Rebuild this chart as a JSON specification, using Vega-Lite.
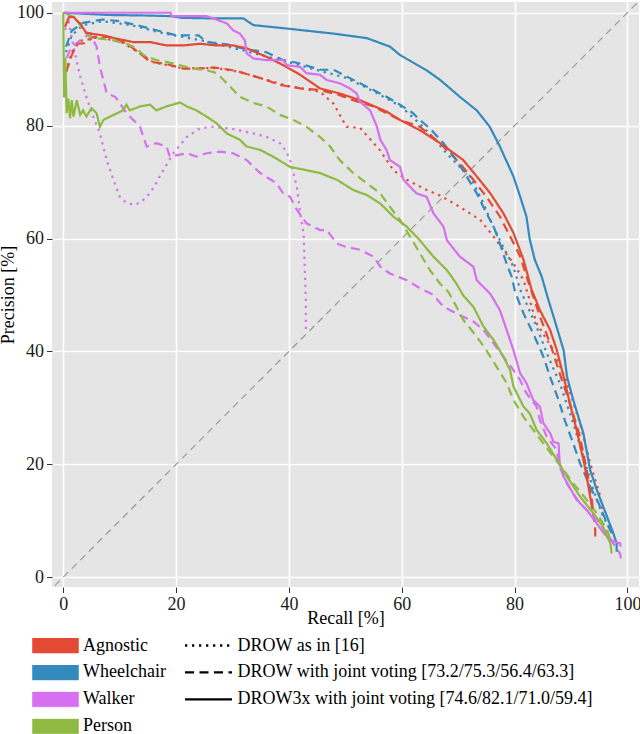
{
  "$schema": "https://vega.github.io/schema/vega-lite/v6.json",
  "autosize": "none",
  "width": 587,
  "height": 585,
  "padding": {"left": 52, "top": 2, "right": 1, "bottom": 147},
  "background": "white",
  "view": {"fill": "#E5E5E5", "stroke": null},
  "config": {
    "font": "'Liberation Serif', 'Times New Roman', serif"
  },
  "layer": [
    {
      "data": {"values": [{"x": -3, "y": -3}, {"x": 103, "y": 103}]},
      "mark": {"type": "line", "color": "#999999", "strokeWidth": 1.2, "strokeDash": [7, 5], "clip": true},
      "encoding": {
        "x": {"field": "x", "type": "quantitative", "scale": {"domain": [-2.0, 102.06], "nice": false, "zero": false},
              "axis": {"title": "Recall [%]", "titleY": 36, "titleBaseline": "alphabetic",
                "values": [0, 20, 40, 60, 80, 100], "grid": true, "gridColor": "#FFFFFF", "gridWidth": 1.6, "gridOpacity": 1,
                "domain": false, "tickColor": "#333333", "tickSize": 5.5, "tickWidth": 1,
                "labelFont": "'Liberation Serif', 'Times New Roman', serif", "labelFontSize": 18, "labelColor": "#1a1a1a", "labelPadding": 3, "labelFlush": false, "labelOverlap": false,
                "titleFont": "'Liberation Serif', 'Times New Roman', serif", "titleFontSize": 18, "titleFontWeight": "normal", "titleColor": "#000000"}},
        "y": {"field": "y", "type": "quantitative", "scale": {"domain": [-1.74, 101.9], "nice": false, "zero": false},
              "axis": {"title": "Precision [%]", "titleX": -39, "titleY": 292.5, "titleAngle": -90, "titleBaseline": "alphabetic", "titleAlign": "center",
                "values": [0, 20, 40, 60, 80, 100], "grid": true, "gridColor": "#FFFFFF", "gridWidth": 1.6, "gridOpacity": 1,
                "domain": false, "tickColor": "#333333", "tickSize": 5.5, "tickWidth": 1,
                "labelFont": "'Liberation Serif', 'Times New Roman', serif", "labelFontSize": 18, "labelColor": "#1a1a1a", "labelPadding": 3, "labelFlush": false, "labelOverlap": false,
                "titleFont": "'Liberation Serif', 'Times New Roman', serif", "titleFontSize": 18, "titleFontWeight": "normal", "titleColor": "#000000"}}
      }
    },
    {
      "data": {"values": [
        {"c":"Agnostic","m":"DROW as in [16]","x":0.5,"y":89.5},
        {"c":"Agnostic","m":"DROW as in [16]","x":1.5,"y":93},
        {"c":"Agnostic","m":"DROW as in [16]","x":3,"y":95},
        {"c":"Agnostic","m":"DROW as in [16]","x":6,"y":95.6},
        {"c":"Agnostic","m":"DROW as in [16]","x":10,"y":95},
        {"c":"Agnostic","m":"DROW as in [16]","x":13.6,"y":92.8},
        {"c":"Agnostic","m":"DROW as in [16]","x":16,"y":91.2},
        {"c":"Agnostic","m":"DROW as in [16]","x":21,"y":90.2},
        {"c":"Agnostic","m":"DROW as in [16]","x":27,"y":90.2},
        {"c":"Agnostic","m":"DROW as in [16]","x":31.3,"y":89.5},
        {"c":"Agnostic","m":"DROW as in [16]","x":36,"y":88.1},
        {"c":"Agnostic","m":"DROW as in [16]","x":40,"y":87},
        {"c":"Agnostic","m":"DROW as in [16]","x":45.5,"y":86.0},
        {"c":"Agnostic","m":"DROW as in [16]","x":47.9,"y":83.9},
        {"c":"Agnostic","m":"DROW as in [16]","x":50.2,"y":79.8},
        {"c":"Agnostic","m":"DROW as in [16]","x":52.6,"y":79.6},
        {"c":"Agnostic","m":"DROW as in [16]","x":56.1,"y":75.7},
        {"c":"Agnostic","m":"DROW as in [16]","x":58.5,"y":72.1},
        {"c":"Agnostic","m":"DROW as in [16]","x":60.9,"y":70.4},
        {"c":"Agnostic","m":"DROW as in [16]","x":64.4,"y":68.6},
        {"c":"Agnostic","m":"DROW as in [16]","x":66.8,"y":67.6},
        {"c":"Agnostic","m":"DROW as in [16]","x":70.3,"y":65.6},
        {"c":"Agnostic","m":"DROW as in [16]","x":73.9,"y":63.3},
        {"c":"Agnostic","m":"DROW as in [16]","x":76.3,"y":60.3},
        {"c":"Agnostic","m":"DROW as in [16]","x":78.0,"y":58.0},
        {"c":"Agnostic","m":"DROW as in [16]","x":79.8,"y":55.6},
        {"c":"Agnostic","m":"DROW as in [16]","x":81.6,"y":52.6},
        {"c":"Agnostic","m":"DROW as in [16]","x":82.5,"y":49.7},
        {"c":"Agnostic","m":"DROW as in [16]","x":83.9,"y":45.0},
        {"c":"Agnostic","m":"DROW as in [16]","x":86.9,"y":40.2},
        {"c":"Agnostic","m":"DROW as in [16]","x":89.3,"y":34.4},
        {"c":"Agnostic","m":"DROW as in [16]","x":91.6,"y":27.3},
        {"c":"Agnostic","m":"DROW as in [16]","x":93.4,"y":20.2},
        {"c":"Agnostic","m":"DROW as in [16]","x":95.2,"y":14.3},
        {"c":"Agnostic","m":"DROW as in [16]","x":95.7,"y":10.7},

        {"c":"Wheelchair","m":"DROW as in [16]","x":0.5,"y":93},
        {"c":"Wheelchair","m":"DROW as in [16]","x":1.5,"y":96},
        {"c":"Wheelchair","m":"DROW as in [16]","x":3.5,"y":97.8},
        {"c":"Wheelchair","m":"DROW as in [16]","x":7,"y":98.5},
        {"c":"Wheelchair","m":"DROW as in [16]","x":12,"y":97.8},
        {"c":"Wheelchair","m":"DROW as in [16]","x":18,"y":96.3},
        {"c":"Wheelchair","m":"DROW as in [16]","x":25,"y":95},
        {"c":"Wheelchair","m":"DROW as in [16]","x":32,"y":93.3},
        {"c":"Wheelchair","m":"DROW as in [16]","x":40,"y":91.2},
        {"c":"Wheelchair","m":"DROW as in [16]","x":45.5,"y":89.7},
        {"c":"Wheelchair","m":"DROW as in [16]","x":50,"y":88.5},
        {"c":"Wheelchair","m":"DROW as in [16]","x":55,"y":86.1},
        {"c":"Wheelchair","m":"DROW as in [16]","x":60,"y":83.3},
        {"c":"Wheelchair","m":"DROW as in [16]","x":63,"y":80.5},
        {"c":"Wheelchair","m":"DROW as in [16]","x":65.5,"y":78},
        {"c":"Wheelchair","m":"DROW as in [16]","x":68,"y":75},
        {"c":"Wheelchair","m":"DROW as in [16]","x":70.3,"y":72.7},
        {"c":"Wheelchair","m":"DROW as in [16]","x":72.1,"y":71.0},
        {"c":"Wheelchair","m":"DROW as in [16]","x":74.5,"y":66.2},
        {"c":"Wheelchair","m":"DROW as in [16]","x":75.7,"y":63.3},
        {"c":"Wheelchair","m":"DROW as in [16]","x":77.4,"y":59.7},
        {"c":"Wheelchair","m":"DROW as in [16]","x":79.8,"y":55.0},
        {"c":"Wheelchair","m":"DROW as in [16]","x":81.0,"y":50.9},
        {"c":"Wheelchair","m":"DROW as in [16]","x":82.1,"y":48.5},
        {"c":"Wheelchair","m":"DROW as in [16]","x":83.9,"y":44.4},
        {"c":"Wheelchair","m":"DROW as in [16]","x":85.7,"y":39.7},
        {"c":"Wheelchair","m":"DROW as in [16]","x":88.0,"y":34.4},
        {"c":"Wheelchair","m":"DROW as in [16]","x":90.4,"y":27.3},
        {"c":"Wheelchair","m":"DROW as in [16]","x":92.2,"y":21.3},
        {"c":"Wheelchair","m":"DROW as in [16]","x":94.0,"y":15.4},
        {"c":"Wheelchair","m":"DROW as in [16]","x":95.7,"y":10.7},
        {"c":"Wheelchair","m":"DROW as in [16]","x":97.5,"y":7.8},

        {"c":"Walker","m":"DROW as in [16]","x":0.3,"y":97},
        {"c":"Walker","m":"DROW as in [16]","x":1,"y":98.3},
        {"c":"Walker","m":"DROW as in [16]","x":1.8,"y":94.0},
        {"c":"Walker","m":"DROW as in [16]","x":3,"y":88.7},
        {"c":"Walker","m":"DROW as in [16]","x":4.1,"y":85.1},
        {"c":"Walker","m":"DROW as in [16]","x":5.3,"y":81.6},
        {"c":"Walker","m":"DROW as in [16]","x":6.5,"y":78.6},
        {"c":"Walker","m":"DROW as in [16]","x":7.7,"y":73.9},
        {"c":"Walker","m":"DROW as in [16]","x":8.9,"y":70.4},
        {"c":"Walker","m":"DROW as in [16]","x":10,"y":67.4},
        {"c":"Walker","m":"DROW as in [16]","x":11.2,"y":66.3},
        {"c":"Walker","m":"DROW as in [16]","x":12.4,"y":66.0},
        {"c":"Walker","m":"DROW as in [16]","x":13.6,"y":66.3},
        {"c":"Walker","m":"DROW as in [16]","x":14.8,"y":67.4},
        {"c":"Walker","m":"DROW as in [16]","x":16,"y":69},
        {"c":"Walker","m":"DROW as in [16]","x":17.1,"y":71.0},
        {"c":"Walker","m":"DROW as in [16]","x":19.5,"y":75.1},
        {"c":"Walker","m":"DROW as in [16]","x":21.9,"y":78.0},
        {"c":"Walker","m":"DROW as in [16]","x":24.2,"y":79.5},
        {"c":"Walker","m":"DROW as in [16]","x":26.6,"y":79.8},
        {"c":"Walker","m":"DROW as in [16]","x":30.1,"y":79.4},
        {"c":"Walker","m":"DROW as in [16]","x":33.7,"y":78.6},
        {"c":"Walker","m":"DROW as in [16]","x":36,"y":78.0},
        {"c":"Walker","m":"DROW as in [16]","x":38.4,"y":76.9},
        {"c":"Walker","m":"DROW as in [16]","x":39.5,"y":75.5},
        {"c":"Walker","m":"DROW as in [16]","x":40.2,"y":73.9},
        {"c":"Walker","m":"DROW as in [16]","x":41.4,"y":69.2},
        {"c":"Walker","m":"DROW as in [16]","x":42,"y":64.5},
        {"c":"Walker","m":"DROW as in [16]","x":42.6,"y":60.9},
        {"c":"Walker","m":"DROW as in [16]","x":42.8,"y":55.0},
        {"c":"Walker","m":"DROW as in [16]","x":43.0,"y":49.1},
        {"c":"Walker","m":"DROW as in [16]","x":43.0,"y":43.2},

        {"c":"Agnostic","m":"DROW with joint voting [73.2/75.3/56.4/63.3]","x":0.5,"y":89.5},
        {"c":"Agnostic","m":"DROW with joint voting [73.2/75.3/56.4/63.3]","x":1.5,"y":92.5},
        {"c":"Agnostic","m":"DROW with joint voting [73.2/75.3/56.4/63.3]","x":2.5,"y":94.5},
        {"c":"Agnostic","m":"DROW with joint voting [73.2/75.3/56.4/63.3]","x":4,"y":94.6},
        {"c":"Agnostic","m":"DROW with joint voting [73.2/75.3/56.4/63.3]","x":5.3,"y":95.7},
        {"c":"Agnostic","m":"DROW with joint voting [73.2/75.3/56.4/63.3]","x":8.3,"y":95.7},
        {"c":"Agnostic","m":"DROW with joint voting [73.2/75.3/56.4/63.3]","x":11.2,"y":94.6},
        {"c":"Agnostic","m":"DROW with joint voting [73.2/75.3/56.4/63.3]","x":13.6,"y":92.8},
        {"c":"Agnostic","m":"DROW with joint voting [73.2/75.3/56.4/63.3]","x":15.4,"y":91.3},
        {"c":"Agnostic","m":"DROW with joint voting [73.2/75.3/56.4/63.3]","x":18.3,"y":90.9},
        {"c":"Agnostic","m":"DROW with joint voting [73.2/75.3/56.4/63.3]","x":21.3,"y":90.1},
        {"c":"Agnostic","m":"DROW with joint voting [73.2/75.3/56.4/63.3]","x":24.2,"y":90.1},
        {"c":"Agnostic","m":"DROW with joint voting [73.2/75.3/56.4/63.3]","x":26.6,"y":90.3},
        {"c":"Agnostic","m":"DROW with joint voting [73.2/75.3/56.4/63.3]","x":29.6,"y":89.9},
        {"c":"Agnostic","m":"DROW with joint voting [73.2/75.3/56.4/63.3]","x":31.3,"y":89.5},
        {"c":"Agnostic","m":"DROW with joint voting [73.2/75.3/56.4/63.3]","x":36,"y":88.1},
        {"c":"Agnostic","m":"DROW with joint voting [73.2/75.3/56.4/63.3]","x":38.4,"y":87.2},
        {"c":"Agnostic","m":"DROW with joint voting [73.2/75.3/56.4/63.3]","x":42,"y":86.6},
        {"c":"Agnostic","m":"DROW with joint voting [73.2/75.3/56.4/63.3]","x":45.5,"y":86.3},
        {"c":"Agnostic","m":"DROW with joint voting [73.2/75.3/56.4/63.3]","x":49,"y":85.4},
        {"c":"Agnostic","m":"DROW with joint voting [73.2/75.3/56.4/63.3]","x":51.4,"y":84.5},
        {"c":"Agnostic","m":"DROW with joint voting [73.2/75.3/56.4/63.3]","x":55,"y":83.4},
        {"c":"Agnostic","m":"DROW with joint voting [73.2/75.3/56.4/63.3]","x":57.3,"y":82.2},
        {"c":"Agnostic","m":"DROW with joint voting [73.2/75.3/56.4/63.3]","x":59.7,"y":81.0},
        {"c":"Agnostic","m":"DROW with joint voting [73.2/75.3/56.4/63.3]","x":63.2,"y":79.8},
        {"c":"Agnostic","m":"DROW with joint voting [73.2/75.3/56.4/63.3]","x":66.8,"y":76.9},
        {"c":"Agnostic","m":"DROW with joint voting [73.2/75.3/56.4/63.3]","x":70.3,"y":73.3},
        {"c":"Agnostic","m":"DROW with joint voting [73.2/75.3/56.4/63.3]","x":72.7,"y":70.4},
        {"c":"Agnostic","m":"DROW with joint voting [73.2/75.3/56.4/63.3]","x":75,"y":67.4},
        {"c":"Agnostic","m":"DROW with joint voting [73.2/75.3/56.4/63.3]","x":77.4,"y":63.9},
        {"c":"Agnostic","m":"DROW with joint voting [73.2/75.3/56.4/63.3]","x":79.2,"y":60.4},
        {"c":"Agnostic","m":"DROW with joint voting [73.2/75.3/56.4/63.3]","x":81.0,"y":56.8},
        {"c":"Agnostic","m":"DROW with joint voting [73.2/75.3/56.4/63.3]","x":82.7,"y":51.5},
        {"c":"Agnostic","m":"DROW with joint voting [73.2/75.3/56.4/63.3]","x":84.5,"y":46.2},
        {"c":"Agnostic","m":"DROW with joint voting [73.2/75.3/56.4/63.3]","x":86.3,"y":41.4},
        {"c":"Agnostic","m":"DROW with joint voting [73.2/75.3/56.4/63.3]","x":88.0,"y":36.1},
        {"c":"Agnostic","m":"DROW with joint voting [73.2/75.3/56.4/63.3]","x":89.8,"y":30.8},
        {"c":"Agnostic","m":"DROW with joint voting [73.2/75.3/56.4/63.3]","x":91.6,"y":24.9},
        {"c":"Agnostic","m":"DROW with joint voting [73.2/75.3/56.4/63.3]","x":92.8,"y":19.0},
        {"c":"Agnostic","m":"DROW with joint voting [73.2/75.3/56.4/63.3]","x":93.7,"y":13.7},
        {"c":"Agnostic","m":"DROW with joint voting [73.2/75.3/56.4/63.3]","x":94.3,"y":8.4},
        {"c":"Agnostic","m":"DROW with joint voting [73.2/75.3/56.4/63.3]","x":94.3,"y":7.2},

        {"c":"Wheelchair","m":"DROW with joint voting [73.2/75.3/56.4/63.3]","x":0.5,"y":94},
        {"c":"Wheelchair","m":"DROW with joint voting [73.2/75.3/56.4/63.3]","x":1.5,"y":96.8},
        {"c":"Wheelchair","m":"DROW with joint voting [73.2/75.3/56.4/63.3]","x":3.5,"y":98.2},
        {"c":"Wheelchair","m":"DROW with joint voting [73.2/75.3/56.4/63.3]","x":7,"y":98.8},
        {"c":"Wheelchair","m":"DROW with joint voting [73.2/75.3/56.4/63.3]","x":10,"y":98.5},
        {"c":"Wheelchair","m":"DROW with joint voting [73.2/75.3/56.4/63.3]","x":13,"y":97.8},
        {"c":"Wheelchair","m":"DROW with joint voting [73.2/75.3/56.4/63.3]","x":15.4,"y":97.2},
        {"c":"Wheelchair","m":"DROW with joint voting [73.2/75.3/56.4/63.3]","x":18,"y":96.5},
        {"c":"Wheelchair","m":"DROW with joint voting [73.2/75.3/56.4/63.3]","x":20,"y":96.0},
        {"c":"Wheelchair","m":"DROW with joint voting [73.2/75.3/56.4/63.3]","x":24,"y":96.0},
        {"c":"Wheelchair","m":"DROW with joint voting [73.2/75.3/56.4/63.3]","x":25.4,"y":94.8},
        {"c":"Wheelchair","m":"DROW with joint voting [73.2/75.3/56.4/63.3]","x":29,"y":94.4},
        {"c":"Wheelchair","m":"DROW with joint voting [73.2/75.3/56.4/63.3]","x":32.5,"y":93.5},
        {"c":"Wheelchair","m":"DROW with joint voting [73.2/75.3/56.4/63.3]","x":36,"y":93.0},
        {"c":"Wheelchair","m":"DROW with joint voting [73.2/75.3/56.4/63.3]","x":39,"y":91.6},
        {"c":"Wheelchair","m":"DROW with joint voting [73.2/75.3/56.4/63.3]","x":42,"y":91.0},
        {"c":"Wheelchair","m":"DROW with joint voting [73.2/75.3/56.4/63.3]","x":45.5,"y":89.9},
        {"c":"Wheelchair","m":"DROW with joint voting [73.2/75.3/56.4/63.3]","x":47.9,"y":89.9},
        {"c":"Wheelchair","m":"DROW with joint voting [73.2/75.3/56.4/63.3]","x":50.2,"y":88.7},
        {"c":"Wheelchair","m":"DROW with joint voting [73.2/75.3/56.4/63.3]","x":52.6,"y":87.5},
        {"c":"Wheelchair","m":"DROW with joint voting [73.2/75.3/56.4/63.3]","x":55,"y":86.3},
        {"c":"Wheelchair","m":"DROW with joint voting [73.2/75.3/56.4/63.3]","x":57.3,"y":85.1},
        {"c":"Wheelchair","m":"DROW with joint voting [73.2/75.3/56.4/63.3]","x":59.7,"y":83.7},
        {"c":"Wheelchair","m":"DROW with joint voting [73.2/75.3/56.4/63.3]","x":62,"y":82.2},
        {"c":"Wheelchair","m":"DROW with joint voting [73.2/75.3/56.4/63.3]","x":63.2,"y":81.0},
        {"c":"Wheelchair","m":"DROW with joint voting [73.2/75.3/56.4/63.3]","x":65,"y":79.5},
        {"c":"Wheelchair","m":"DROW with joint voting [73.2/75.3/56.4/63.3]","x":67.4,"y":76.9},
        {"c":"Wheelchair","m":"DROW with joint voting [73.2/75.3/56.4/63.3]","x":69.7,"y":73.9},
        {"c":"Wheelchair","m":"DROW with joint voting [73.2/75.3/56.4/63.3]","x":71.5,"y":71.0},
        {"c":"Wheelchair","m":"DROW with joint voting [73.2/75.3/56.4/63.3]","x":73.3,"y":68.0},
        {"c":"Wheelchair","m":"DROW with joint voting [73.2/75.3/56.4/63.3]","x":75,"y":64.5},
        {"c":"Wheelchair","m":"DROW with joint voting [73.2/75.3/56.4/63.3]","x":76.3,"y":62.1},
        {"c":"Wheelchair","m":"DROW with joint voting [73.2/75.3/56.4/63.3]","x":77.4,"y":59.1},
        {"c":"Wheelchair","m":"DROW with joint voting [73.2/75.3/56.4/63.3]","x":78.6,"y":55.5},
        {"c":"Wheelchair","m":"DROW with joint voting [73.2/75.3/56.4/63.3]","x":79.5,"y":53.2},
        {"c":"Wheelchair","m":"DROW with joint voting [73.2/75.3/56.4/63.3]","x":80.1,"y":50.5},
        {"c":"Wheelchair","m":"DROW with joint voting [73.2/75.3/56.4/63.3]","x":81.6,"y":46.7},
        {"c":"Wheelchair","m":"DROW with joint voting [73.2/75.3/56.4/63.3]","x":83.3,"y":43.2},
        {"c":"Wheelchair","m":"DROW with joint voting [73.2/75.3/56.4/63.3]","x":85.1,"y":39.1},
        {"c":"Wheelchair","m":"DROW with joint voting [73.2/75.3/56.4/63.3]","x":86.3,"y":35.5},
        {"c":"Wheelchair","m":"DROW with joint voting [73.2/75.3/56.4/63.3]","x":87.8,"y":31.4},
        {"c":"Wheelchair","m":"DROW with joint voting [73.2/75.3/56.4/63.3]","x":88.9,"y":27.8},
        {"c":"Wheelchair","m":"DROW with joint voting [73.2/75.3/56.4/63.3]","x":90.4,"y":23.7},
        {"c":"Wheelchair","m":"DROW with joint voting [73.2/75.3/56.4/63.3]","x":91.6,"y":20.2},
        {"c":"Wheelchair","m":"DROW with joint voting [73.2/75.3/56.4/63.3]","x":93.4,"y":16.0},
        {"c":"Wheelchair","m":"DROW with joint voting [73.2/75.3/56.4/63.3]","x":94.9,"y":13.1},
        {"c":"Wheelchair","m":"DROW with joint voting [73.2/75.3/56.4/63.3]","x":96.4,"y":9.5},
        {"c":"Wheelchair","m":"DROW with joint voting [73.2/75.3/56.4/63.3]","x":97.5,"y":7.2},

        {"c":"Walker","m":"DROW with joint voting [73.2/75.3/56.4/63.3]","x":0.6,"y":92},
        {"c":"Walker","m":"DROW with joint voting [73.2/75.3/56.4/63.3]","x":1.5,"y":94},
        {"c":"Walker","m":"DROW with joint voting [73.2/75.3/56.4/63.3]","x":3,"y":95.1},
        {"c":"Walker","m":"DROW with joint voting [73.2/75.3/56.4/63.3]","x":4.7,"y":96.3},
        {"c":"Walker","m":"DROW with joint voting [73.2/75.3/56.4/63.3]","x":5.9,"y":94.0},
        {"c":"Walker","m":"DROW with joint voting [73.2/75.3/56.4/63.3]","x":6.5,"y":90.4},
        {"c":"Walker","m":"DROW with joint voting [73.2/75.3/56.4/63.3]","x":7.1,"y":88.1},
        {"c":"Walker","m":"DROW with joint voting [73.2/75.3/56.4/63.3]","x":7.7,"y":85.7},
        {"c":"Walker","m":"DROW with joint voting [73.2/75.3/56.4/63.3]","x":9.2,"y":85.1},
        {"c":"Walker","m":"DROW with joint voting [73.2/75.3/56.4/63.3]","x":10,"y":84.0},
        {"c":"Walker","m":"DROW with joint voting [73.2/75.3/56.4/63.3]","x":11.2,"y":82.2},
        {"c":"Walker","m":"DROW with joint voting [73.2/75.3/56.4/63.3]","x":12.4,"y":81.0},
        {"c":"Walker","m":"DROW with joint voting [73.2/75.3/56.4/63.3]","x":13.6,"y":79.8},
        {"c":"Walker","m":"DROW with joint voting [73.2/75.3/56.4/63.3]","x":14.2,"y":78.0},
        {"c":"Walker","m":"DROW with joint voting [73.2/75.3/56.4/63.3]","x":14.8,"y":76.3},
        {"c":"Walker","m":"DROW with joint voting [73.2/75.3/56.4/63.3]","x":16.5,"y":76.9},
        {"c":"Walker","m":"DROW with joint voting [73.2/75.3/56.4/63.3]","x":18.3,"y":76.3},
        {"c":"Walker","m":"DROW with joint voting [73.2/75.3/56.4/63.3]","x":18.9,"y":74.5},
        {"c":"Walker","m":"DROW with joint voting [73.2/75.3/56.4/63.3]","x":21.9,"y":75.1},
        {"c":"Walker","m":"DROW with joint voting [73.2/75.3/56.4/63.3]","x":23.6,"y":74.5},
        {"c":"Walker","m":"DROW with joint voting [73.2/75.3/56.4/63.3]","x":25.4,"y":75.1},
        {"c":"Walker","m":"DROW with joint voting [73.2/75.3/56.4/63.3]","x":27.8,"y":75.4},
        {"c":"Walker","m":"DROW with joint voting [73.2/75.3/56.4/63.3]","x":30.1,"y":75.1},
        {"c":"Walker","m":"DROW with joint voting [73.2/75.3/56.4/63.3]","x":32.5,"y":73.9},
        {"c":"Walker","m":"DROW with joint voting [73.2/75.3/56.4/63.3]","x":34.9,"y":71.6},
        {"c":"Walker","m":"DROW with joint voting [73.2/75.3/56.4/63.3]","x":37.8,"y":69.8},
        {"c":"Walker","m":"DROW with joint voting [73.2/75.3/56.4/63.3]","x":39,"y":68.0},
        {"c":"Walker","m":"DROW with joint voting [73.2/75.3/56.4/63.3]","x":40.2,"y":67.4},
        {"c":"Walker","m":"DROW with joint voting [73.2/75.3/56.4/63.3]","x":41.4,"y":65.1},
        {"c":"Walker","m":"DROW with joint voting [73.2/75.3/56.4/63.3]","x":43.1,"y":62.7},
        {"c":"Walker","m":"DROW with joint voting [73.2/75.3/56.4/63.3]","x":45.5,"y":61.5},
        {"c":"Walker","m":"DROW with joint voting [73.2/75.3/56.4/63.3]","x":46.7,"y":61.5},
        {"c":"Walker","m":"DROW with joint voting [73.2/75.3/56.4/63.3]","x":48.5,"y":59.1},
        {"c":"Walker","m":"DROW with joint voting [73.2/75.3/56.4/63.3]","x":50.2,"y":58.5},
        {"c":"Walker","m":"DROW with joint voting [73.2/75.3/56.4/63.3]","x":52.6,"y":58.0},
        {"c":"Walker","m":"DROW with joint voting [73.2/75.3/56.4/63.3]","x":55,"y":56.8},
        {"c":"Walker","m":"DROW with joint voting [73.2/75.3/56.4/63.3]","x":56.2,"y":55.0},
        {"c":"Walker","m":"DROW with joint voting [73.2/75.3/56.4/63.3]","x":57.9,"y":53.8},
        {"c":"Walker","m":"DROW with joint voting [73.2/75.3/56.4/63.3]","x":60.9,"y":52.6},
        {"c":"Walker","m":"DROW with joint voting [73.2/75.3/56.4/63.3]","x":63.2,"y":51.2},
        {"c":"Walker","m":"DROW with joint voting [73.2/75.3/56.4/63.3]","x":65.6,"y":50.0},
        {"c":"Walker","m":"DROW with joint voting [73.2/75.3/56.4/63.3]","x":67.4,"y":47.9},
        {"c":"Walker","m":"DROW with joint voting [73.2/75.3/56.4/63.3]","x":68.6,"y":47.3},
        {"c":"Walker","m":"DROW with joint voting [73.2/75.3/56.4/63.3]","x":70.3,"y":46.4},
        {"c":"Walker","m":"DROW with joint voting [73.2/75.3/56.4/63.3]","x":72.7,"y":45.3},
        {"c":"Walker","m":"DROW with joint voting [73.2/75.3/56.4/63.3]","x":74.5,"y":43.8},
        {"c":"Walker","m":"DROW with joint voting [73.2/75.3/56.4/63.3]","x":76.3,"y":41.4},
        {"c":"Walker","m":"DROW with joint voting [73.2/75.3/56.4/63.3]","x":78.0,"y":39.1},
        {"c":"Walker","m":"DROW with joint voting [73.2/75.3/56.4/63.3]","x":79.8,"y":36.7},
        {"c":"Walker","m":"DROW with joint voting [73.2/75.3/56.4/63.3]","x":81.0,"y":34.9},
        {"c":"Walker","m":"DROW with joint voting [73.2/75.3/56.4/63.3]","x":82.1,"y":32.6},
        {"c":"Walker","m":"DROW with joint voting [73.2/75.3/56.4/63.3]","x":83.9,"y":30.2},
        {"c":"Walker","m":"DROW with joint voting [73.2/75.3/56.4/63.3]","x":84.5,"y":27.8},
        {"c":"Walker","m":"DROW with joint voting [73.2/75.3/56.4/63.3]","x":85.7,"y":24.9},
        {"c":"Walker","m":"DROW with joint voting [73.2/75.3/56.4/63.3]","x":87.5,"y":22.5},
        {"c":"Walker","m":"DROW with joint voting [73.2/75.3/56.4/63.3]","x":88.0,"y":19.6},
        {"c":"Walker","m":"DROW with joint voting [73.2/75.3/56.4/63.3]","x":89.3,"y":16.6},
        {"c":"Walker","m":"DROW with joint voting [73.2/75.3/56.4/63.3]","x":91.0,"y":13.7},
        {"c":"Walker","m":"DROW with joint voting [73.2/75.3/56.4/63.3]","x":92.8,"y":11.9},
        {"c":"Walker","m":"DROW with joint voting [73.2/75.3/56.4/63.3]","x":94.6,"y":10.2},
        {"c":"Walker","m":"DROW with joint voting [73.2/75.3/56.4/63.3]","x":96.4,"y":7.8},
        {"c":"Walker","m":"DROW with joint voting [73.2/75.3/56.4/63.3]","x":97.5,"y":6.0},
        {"c":"Walker","m":"DROW with joint voting [73.2/75.3/56.4/63.3]","x":98.7,"y":4.2},
        {"c":"Walker","m":"DROW with joint voting [73.2/75.3/56.4/63.3]","x":99.0,"y":2.5},

        {"c":"Person","m":"DROW with joint voting [73.2/75.3/56.4/63.3]","x":0.3,"y":100},
        {"c":"Person","m":"DROW with joint voting [73.2/75.3/56.4/63.3]","x":1.2,"y":99.5},
        {"c":"Person","m":"DROW with joint voting [73.2/75.3/56.4/63.3]","x":2.4,"y":98.7},
        {"c":"Person","m":"DROW with joint voting [73.2/75.3/56.4/63.3]","x":3.5,"y":96.9},
        {"c":"Person","m":"DROW with joint voting [73.2/75.3/56.4/63.3]","x":4.7,"y":95.7},
        {"c":"Person","m":"DROW with joint voting [73.2/75.3/56.4/63.3]","x":6.5,"y":95.4},
        {"c":"Person","m":"DROW with joint voting [73.2/75.3/56.4/63.3]","x":8.9,"y":95.1},
        {"c":"Person","m":"DROW with joint voting [73.2/75.3/56.4/63.3]","x":11.2,"y":94.5},
        {"c":"Person","m":"DROW with joint voting [73.2/75.3/56.4/63.3]","x":13,"y":93.7},
        {"c":"Person","m":"DROW with joint voting [73.2/75.3/56.4/63.3]","x":14.2,"y":92.5},
        {"c":"Person","m":"DROW with joint voting [73.2/75.3/56.4/63.3]","x":16.5,"y":91.6},
        {"c":"Person","m":"DROW with joint voting [73.2/75.3/56.4/63.3]","x":18.3,"y":91.3},
        {"c":"Person","m":"DROW with joint voting [73.2/75.3/56.4/63.3]","x":20.7,"y":90.7},
        {"c":"Person","m":"DROW with joint voting [73.2/75.3/56.4/63.3]","x":23,"y":90.1},
        {"c":"Person","m":"DROW with joint voting [73.2/75.3/56.4/63.3]","x":25.4,"y":89.8},
        {"c":"Person","m":"DROW with joint voting [73.2/75.3/56.4/63.3]","x":27.2,"y":89.3},
        {"c":"Person","m":"DROW with joint voting [73.2/75.3/56.4/63.3]","x":29,"y":87.5},
        {"c":"Person","m":"DROW with joint voting [73.2/75.3/56.4/63.3]","x":31.3,"y":85.1},
        {"c":"Person","m":"DROW with joint voting [73.2/75.3/56.4/63.3]","x":33.7,"y":84.0},
        {"c":"Person","m":"DROW with joint voting [73.2/75.3/56.4/63.3]","x":36,"y":83.4},
        {"c":"Person","m":"DROW with joint voting [73.2/75.3/56.4/63.3]","x":38.4,"y":81.9},
        {"c":"Person","m":"DROW with joint voting [73.2/75.3/56.4/63.3]","x":40.8,"y":81.0},
        {"c":"Person","m":"DROW with joint voting [73.2/75.3/56.4/63.3]","x":43.1,"y":79.8},
        {"c":"Person","m":"DROW with joint voting [73.2/75.3/56.4/63.3]","x":45.5,"y":78.0},
        {"c":"Person","m":"DROW with joint voting [73.2/75.3/56.4/63.3]","x":47.3,"y":76.3},
        {"c":"Person","m":"DROW with joint voting [73.2/75.3/56.4/63.3]","x":49,"y":73.9},
        {"c":"Person","m":"DROW with joint voting [73.2/75.3/56.4/63.3]","x":51.4,"y":71.6},
        {"c":"Person","m":"DROW with joint voting [73.2/75.3/56.4/63.3]","x":53.8,"y":69.8},
        {"c":"Person","m":"DROW with joint voting [73.2/75.3/56.4/63.3]","x":56.2,"y":68.0},
        {"c":"Person","m":"DROW with joint voting [73.2/75.3/56.4/63.3]","x":57.9,"y":65.6},
        {"c":"Person","m":"DROW with joint voting [73.2/75.3/56.4/63.3]","x":59.7,"y":63.3},
        {"c":"Person","m":"DROW with joint voting [73.2/75.3/56.4/63.3]","x":61.5,"y":60.3},
        {"c":"Person","m":"DROW with joint voting [73.2/75.3/56.4/63.3]","x":63.2,"y":57.4},
        {"c":"Person","m":"DROW with joint voting [73.2/75.3/56.4/63.3]","x":65,"y":54.4},
        {"c":"Person","m":"DROW with joint voting [73.2/75.3/56.4/63.3]","x":66.8,"y":52.0},
        {"c":"Person","m":"DROW with joint voting [73.2/75.3/56.4/63.3]","x":68.3,"y":50.5},
        {"c":"Person","m":"DROW with joint voting [73.2/75.3/56.4/63.3]","x":69.7,"y":47.9},
        {"c":"Person","m":"DROW with joint voting [73.2/75.3/56.4/63.3]","x":70.9,"y":45.6},
        {"c":"Person","m":"DROW with joint voting [73.2/75.3/56.4/63.3]","x":73.3,"y":42.6},
        {"c":"Person","m":"DROW with joint voting [73.2/75.3/56.4/63.3]","x":75,"y":40.2},
        {"c":"Person","m":"DROW with joint voting [73.2/75.3/56.4/63.3]","x":76.8,"y":37.3},
        {"c":"Person","m":"DROW with joint voting [73.2/75.3/56.4/63.3]","x":78.6,"y":34.4},
        {"c":"Person","m":"DROW with joint voting [73.2/75.3/56.4/63.3]","x":79.8,"y":31.4},
        {"c":"Person","m":"DROW with joint voting [73.2/75.3/56.4/63.3]","x":81.6,"y":28.4},
        {"c":"Person","m":"DROW with joint voting [73.2/75.3/56.4/63.3]","x":83.3,"y":26.1},
        {"c":"Person","m":"DROW with joint voting [73.2/75.3/56.4/63.3]","x":85.1,"y":23.7},
        {"c":"Person","m":"DROW with joint voting [73.2/75.3/56.4/63.3]","x":86.9,"y":21.3},
        {"c":"Person","m":"DROW with joint voting [73.2/75.3/56.4/63.3]","x":88.7,"y":19.0},
        {"c":"Person","m":"DROW with joint voting [73.2/75.3/56.4/63.3]","x":90.4,"y":16.6},
        {"c":"Person","m":"DROW with joint voting [73.2/75.3/56.4/63.3]","x":92.8,"y":13.7},
        {"c":"Person","m":"DROW with joint voting [73.2/75.3/56.4/63.3]","x":94.6,"y":11.3},
        {"c":"Person","m":"DROW with joint voting [73.2/75.3/56.4/63.3]","x":96.4,"y":8.4},
        {"c":"Person","m":"DROW with joint voting [73.2/75.3/56.4/63.3]","x":97,"y":6.6},

        {"c":"Agnostic","m":"DROW3x with joint voting [74.6/82.1/71.0/59.4]","x":0.3,"y":97.5},
        {"c":"Agnostic","m":"DROW3x with joint voting [74.6/82.1/71.0/59.4]","x":1,"y":99.2},
        {"c":"Agnostic","m":"DROW3x with joint voting [74.6/82.1/71.0/59.4]","x":1.8,"y":99.3},
        {"c":"Agnostic","m":"DROW3x with joint voting [74.6/82.1/71.0/59.4]","x":2.5,"y":98.5},
        {"c":"Agnostic","m":"DROW3x with joint voting [74.6/82.1/71.0/59.4]","x":3,"y":98.1},
        {"c":"Agnostic","m":"DROW3x with joint voting [74.6/82.1/71.0/59.4]","x":4,"y":96.5},
        {"c":"Agnostic","m":"DROW3x with joint voting [74.6/82.1/71.0/59.4]","x":5.5,"y":96.2},
        {"c":"Agnostic","m":"DROW3x with joint voting [74.6/82.1/71.0/59.4]","x":7,"y":96.0},
        {"c":"Agnostic","m":"DROW3x with joint voting [74.6/82.1/71.0/59.4]","x":9.5,"y":95.4},
        {"c":"Agnostic","m":"DROW3x with joint voting [74.6/82.1/71.0/59.4]","x":12.4,"y":94.8},
        {"c":"Agnostic","m":"DROW3x with joint voting [74.6/82.1/71.0/59.4]","x":15.4,"y":94.8},
        {"c":"Agnostic","m":"DROW3x with joint voting [74.6/82.1/71.0/59.4]","x":18.3,"y":94.2},
        {"c":"Agnostic","m":"DROW3x with joint voting [74.6/82.1/71.0/59.4]","x":21.3,"y":94.2},
        {"c":"Agnostic","m":"DROW3x with joint voting [74.6/82.1/71.0/59.4]","x":24.2,"y":94.5},
        {"c":"Agnostic","m":"DROW3x with joint voting [74.6/82.1/71.0/59.4]","x":27.2,"y":94.2},
        {"c":"Agnostic","m":"DROW3x with joint voting [74.6/82.1/71.0/59.4]","x":30.1,"y":94.2},
        {"c":"Agnostic","m":"DROW3x with joint voting [74.6/82.1/71.0/59.4]","x":32.5,"y":93.7},
        {"c":"Agnostic","m":"DROW3x with joint voting [74.6/82.1/71.0/59.4]","x":36,"y":92.2},
        {"c":"Agnostic","m":"DROW3x with joint voting [74.6/82.1/71.0/59.4]","x":39,"y":90.7},
        {"c":"Agnostic","m":"DROW3x with joint voting [74.6/82.1/71.0/59.4]","x":42,"y":89.0},
        {"c":"Agnostic","m":"DROW3x with joint voting [74.6/82.1/71.0/59.4]","x":45.5,"y":86.6},
        {"c":"Agnostic","m":"DROW3x with joint voting [74.6/82.1/71.0/59.4]","x":49,"y":85.7},
        {"c":"Agnostic","m":"DROW3x with joint voting [74.6/82.1/71.0/59.4]","x":52.6,"y":84.5},
        {"c":"Agnostic","m":"DROW3x with joint voting [74.6/82.1/71.0/59.4]","x":57.3,"y":82.5},
        {"c":"Agnostic","m":"DROW3x with joint voting [74.6/82.1/71.0/59.4]","x":59.7,"y":81.0},
        {"c":"Agnostic","m":"DROW3x with joint voting [74.6/82.1/71.0/59.4]","x":63.2,"y":79.2},
        {"c":"Agnostic","m":"DROW3x with joint voting [74.6/82.1/71.0/59.4]","x":66.8,"y":76.9},
        {"c":"Agnostic","m":"DROW3x with joint voting [74.6/82.1/71.0/59.4]","x":70.9,"y":73.9},
        {"c":"Agnostic","m":"DROW3x with joint voting [74.6/82.1/71.0/59.4]","x":73.3,"y":71.0},
        {"c":"Agnostic","m":"DROW3x with joint voting [74.6/82.1/71.0/59.4]","x":75.7,"y":68.0},
        {"c":"Agnostic","m":"DROW3x with joint voting [74.6/82.1/71.0/59.4]","x":78.0,"y":64.5},
        {"c":"Agnostic","m":"DROW3x with joint voting [74.6/82.1/71.0/59.4]","x":79.8,"y":61.0},
        {"c":"Agnostic","m":"DROW3x with joint voting [74.6/82.1/71.0/59.4]","x":81.6,"y":56.2},
        {"c":"Agnostic","m":"DROW3x with joint voting [74.6/82.1/71.0/59.4]","x":83.0,"y":51.0},
        {"c":"Agnostic","m":"DROW3x with joint voting [74.6/82.1/71.0/59.4]","x":84.5,"y":47.3},
        {"c":"Agnostic","m":"DROW3x with joint voting [74.6/82.1/71.0/59.4]","x":86.3,"y":43.8},
        {"c":"Agnostic","m":"DROW3x with joint voting [74.6/82.1/71.0/59.4]","x":87.5,"y":40.2},
        {"c":"Agnostic","m":"DROW3x with joint voting [74.6/82.1/71.0/59.4]","x":88.7,"y":35.5},
        {"c":"Agnostic","m":"DROW3x with joint voting [74.6/82.1/71.0/59.4]","x":89.8,"y":30.8},
        {"c":"Agnostic","m":"DROW3x with joint voting [74.6/82.1/71.0/59.4]","x":91.0,"y":26.1},
        {"c":"Agnostic","m":"DROW3x with joint voting [74.6/82.1/71.0/59.4]","x":92.2,"y":20.8},
        {"c":"Agnostic","m":"DROW3x with joint voting [74.6/82.1/71.0/59.4]","x":92.8,"y":17.8},
        {"c":"Agnostic","m":"DROW3x with joint voting [74.6/82.1/71.0/59.4]","x":93.4,"y":14.3},
        {"c":"Agnostic","m":"DROW3x with joint voting [74.6/82.1/71.0/59.4]","x":93.8,"y":12.0},

        {"c":"Wheelchair","m":"DROW3x with joint voting [74.6/82.1/71.0/59.4]","x":0,"y":100},
        {"c":"Wheelchair","m":"DROW3x with joint voting [74.6/82.1/71.0/59.4]","x":8,"y":99.6},
        {"c":"Wheelchair","m":"DROW3x with joint voting [74.6/82.1/71.0/59.4]","x":15,"y":99.5},
        {"c":"Wheelchair","m":"DROW3x with joint voting [74.6/82.1/71.0/59.4]","x":19,"y":99.4},
        {"c":"Wheelchair","m":"DROW3x with joint voting [74.6/82.1/71.0/59.4]","x":21,"y":99.1},
        {"c":"Wheelchair","m":"DROW3x with joint voting [74.6/82.1/71.0/59.4]","x":26,"y":99.0},
        {"c":"Wheelchair","m":"DROW3x with joint voting [74.6/82.1/71.0/59.4]","x":31.9,"y":99.0},
        {"c":"Wheelchair","m":"DROW3x with joint voting [74.6/82.1/71.0/59.4]","x":33.7,"y":97.8},
        {"c":"Wheelchair","m":"DROW3x with joint voting [74.6/82.1/71.0/59.4]","x":39.6,"y":97.2},
        {"c":"Wheelchair","m":"DROW3x with joint voting [74.6/82.1/71.0/59.4]","x":47.9,"y":96.3},
        {"c":"Wheelchair","m":"DROW3x with joint voting [74.6/82.1/71.0/59.4]","x":53.8,"y":95.5},
        {"c":"Wheelchair","m":"DROW3x with joint voting [74.6/82.1/71.0/59.4]","x":57.9,"y":94.0},
        {"c":"Wheelchair","m":"DROW3x with joint voting [74.6/82.1/71.0/59.4]","x":59.7,"y":92.5},
        {"c":"Wheelchair","m":"DROW3x with joint voting [74.6/82.1/71.0/59.4]","x":64.4,"y":89.8},
        {"c":"Wheelchair","m":"DROW3x with joint voting [74.6/82.1/71.0/59.4]","x":66.8,"y":88.1},
        {"c":"Wheelchair","m":"DROW3x with joint voting [74.6/82.1/71.0/59.4]","x":70.3,"y":85.1},
        {"c":"Wheelchair","m":"DROW3x with joint voting [74.6/82.1/71.0/59.4]","x":73.3,"y":82.7},
        {"c":"Wheelchair","m":"DROW3x with joint voting [74.6/82.1/71.0/59.4]","x":75.6,"y":79.8},
        {"c":"Wheelchair","m":"DROW3x with joint voting [74.6/82.1/71.0/59.4]","x":77.4,"y":76.3},
        {"c":"Wheelchair","m":"DROW3x with joint voting [74.6/82.1/71.0/59.4]","x":79.8,"y":71.0},
        {"c":"Wheelchair","m":"DROW3x with joint voting [74.6/82.1/71.0/59.4]","x":81.0,"y":67.4},
        {"c":"Wheelchair","m":"DROW3x with joint voting [74.6/82.1/71.0/59.4]","x":82.1,"y":63.9},
        {"c":"Wheelchair","m":"DROW3x with joint voting [74.6/82.1/71.0/59.4]","x":82.7,"y":59.8},
        {"c":"Wheelchair","m":"DROW3x with joint voting [74.6/82.1/71.0/59.4]","x":83.6,"y":56.2},
        {"c":"Wheelchair","m":"DROW3x with joint voting [74.6/82.1/71.0/59.4]","x":84.8,"y":53.3},
        {"c":"Wheelchair","m":"DROW3x with joint voting [74.6/82.1/71.0/59.4]","x":86.0,"y":49.1},
        {"c":"Wheelchair","m":"DROW3x with joint voting [74.6/82.1/71.0/59.4]","x":86.9,"y":46.2},
        {"c":"Wheelchair","m":"DROW3x with joint voting [74.6/82.1/71.0/59.4]","x":88.7,"y":40.2},
        {"c":"Wheelchair","m":"DROW3x with joint voting [74.6/82.1/71.0/59.4]","x":89.3,"y":35.5},
        {"c":"Wheelchair","m":"DROW3x with joint voting [74.6/82.1/71.0/59.4]","x":90.4,"y":31.4},
        {"c":"Wheelchair","m":"DROW3x with joint voting [74.6/82.1/71.0/59.4]","x":92.2,"y":25.5},
        {"c":"Wheelchair","m":"DROW3x with joint voting [74.6/82.1/71.0/59.4]","x":93.4,"y":19.0},
        {"c":"Wheelchair","m":"DROW3x with joint voting [74.6/82.1/71.0/59.4]","x":94.6,"y":15.4},
        {"c":"Wheelchair","m":"DROW3x with joint voting [74.6/82.1/71.0/59.4]","x":96.4,"y":10.7},
        {"c":"Wheelchair","m":"DROW3x with joint voting [74.6/82.1/71.0/59.4]","x":97.5,"y":7.8},
        {"c":"Wheelchair","m":"DROW3x with joint voting [74.6/82.1/71.0/59.4]","x":98.1,"y":6.0},
        {"c":"Wheelchair","m":"DROW3x with joint voting [74.6/82.1/71.0/59.4]","x":98.1,"y":4.5},

        {"c":"Walker","m":"DROW3x with joint voting [74.6/82.1/71.0/59.4]","x":0,"y":100},
        {"c":"Walker","m":"DROW3x with joint voting [74.6/82.1/71.0/59.4]","x":19,"y":100},
        {"c":"Walker","m":"DROW3x with joint voting [74.6/82.1/71.0/59.4]","x":19.2,"y":99.4},
        {"c":"Walker","m":"DROW3x with joint voting [74.6/82.1/71.0/59.4]","x":25.4,"y":99.4},
        {"c":"Walker","m":"DROW3x with joint voting [74.6/82.1/71.0/59.4]","x":26.6,"y":99.0},
        {"c":"Walker","m":"DROW3x with joint voting [74.6/82.1/71.0/59.4]","x":29,"y":98.1},
        {"c":"Walker","m":"DROW3x with joint voting [74.6/82.1/71.0/59.4]","x":30.1,"y":96.9},
        {"c":"Walker","m":"DROW3x with joint voting [74.6/82.1/71.0/59.4]","x":31.3,"y":96.3},
        {"c":"Walker","m":"DROW3x with joint voting [74.6/82.1/71.0/59.4]","x":32.2,"y":95.1},
        {"c":"Walker","m":"DROW3x with joint voting [74.6/82.1/71.0/59.4]","x":32.5,"y":92.8},
        {"c":"Walker","m":"DROW3x with joint voting [74.6/82.1/71.0/59.4]","x":33.7,"y":91.9},
        {"c":"Walker","m":"DROW3x with joint voting [74.6/82.1/71.0/59.4]","x":36,"y":91.6},
        {"c":"Walker","m":"DROW3x with joint voting [74.6/82.1/71.0/59.4]","x":39,"y":91.6},
        {"c":"Walker","m":"DROW3x with joint voting [74.6/82.1/71.0/59.4]","x":39.6,"y":90.7},
        {"c":"Walker","m":"DROW3x with joint voting [74.6/82.1/71.0/59.4]","x":42,"y":90.4},
        {"c":"Walker","m":"DROW3x with joint voting [74.6/82.1/71.0/59.4]","x":43.1,"y":89.3},
        {"c":"Walker","m":"DROW3x with joint voting [74.6/82.1/71.0/59.4]","x":45.5,"y":89.0},
        {"c":"Walker","m":"DROW3x with joint voting [74.6/82.1/71.0/59.4]","x":46.7,"y":88.1},
        {"c":"Walker","m":"DROW3x with joint voting [74.6/82.1/71.0/59.4]","x":49,"y":87.5},
        {"c":"Walker","m":"DROW3x with joint voting [74.6/82.1/71.0/59.4]","x":50.8,"y":86.6},
        {"c":"Walker","m":"DROW3x with joint voting [74.6/82.1/71.0/59.4]","x":52,"y":85.7},
        {"c":"Walker","m":"DROW3x with joint voting [74.6/82.1/71.0/59.4]","x":52.6,"y":84.2},
        {"c":"Walker","m":"DROW3x with joint voting [74.6/82.1/71.0/59.4]","x":54.4,"y":82.7},
        {"c":"Walker","m":"DROW3x with joint voting [74.6/82.1/71.0/59.4]","x":55.6,"y":79.8},
        {"c":"Walker","m":"DROW3x with joint voting [74.6/82.1/71.0/59.4]","x":56.2,"y":77.5},
        {"c":"Walker","m":"DROW3x with joint voting [74.6/82.1/71.0/59.4]","x":57.3,"y":75.7},
        {"c":"Walker","m":"DROW3x with joint voting [74.6/82.1/71.0/59.4]","x":57.9,"y":73.9},
        {"c":"Walker","m":"DROW3x with joint voting [74.6/82.1/71.0/59.4]","x":59.7,"y":72.7},
        {"c":"Walker","m":"DROW3x with joint voting [74.6/82.1/71.0/59.4]","x":60.3,"y":70.4},
        {"c":"Walker","m":"DROW3x with joint voting [74.6/82.1/71.0/59.4]","x":62.6,"y":68.0},
        {"c":"Walker","m":"DROW3x with joint voting [74.6/82.1/71.0/59.4]","x":64.4,"y":67.4},
        {"c":"Walker","m":"DROW3x with joint voting [74.6/82.1/71.0/59.4]","x":65.6,"y":64.5},
        {"c":"Walker","m":"DROW3x with joint voting [74.6/82.1/71.0/59.4]","x":67.4,"y":62.1},
        {"c":"Walker","m":"DROW3x with joint voting [74.6/82.1/71.0/59.4]","x":68.0,"y":59.7},
        {"c":"Walker","m":"DROW3x with joint voting [74.6/82.1/71.0/59.4]","x":70.3,"y":56.8},
        {"c":"Walker","m":"DROW3x with joint voting [74.6/82.1/71.0/59.4]","x":72.7,"y":55.0},
        {"c":"Walker","m":"DROW3x with joint voting [74.6/82.1/71.0/59.4]","x":73.3,"y":52.6},
        {"c":"Walker","m":"DROW3x with joint voting [74.6/82.1/71.0/59.4]","x":75.7,"y":50.2},
        {"c":"Walker","m":"DROW3x with joint voting [74.6/82.1/71.0/59.4]","x":77.4,"y":47.3},
        {"c":"Walker","m":"DROW3x with joint voting [74.6/82.1/71.0/59.4]","x":78.6,"y":43.8},
        {"c":"Walker","m":"DROW3x with joint voting [74.6/82.1/71.0/59.4]","x":79.8,"y":40.2},
        {"c":"Walker","m":"DROW3x with joint voting [74.6/82.1/71.0/59.4]","x":81.0,"y":36.1},
        {"c":"Walker","m":"DROW3x with joint voting [74.6/82.1/71.0/59.4]","x":82.1,"y":34.4},
        {"c":"Walker","m":"DROW3x with joint voting [74.6/82.1/71.0/59.4]","x":83.3,"y":31.4},
        {"c":"Walker","m":"DROW3x with joint voting [74.6/82.1/71.0/59.4]","x":84.5,"y":30.2},
        {"c":"Walker","m":"DROW3x with joint voting [74.6/82.1/71.0/59.4]","x":85.1,"y":27.3},
        {"c":"Walker","m":"DROW3x with joint voting [74.6/82.1/71.0/59.4]","x":86.3,"y":25.5},
        {"c":"Walker","m":"DROW3x with joint voting [74.6/82.1/71.0/59.4]","x":86.9,"y":24.0},
        {"c":"Walker","m":"DROW3x with joint voting [74.6/82.1/71.0/59.4]","x":87.8,"y":23.7},
        {"c":"Walker","m":"DROW3x with joint voting [74.6/82.1/71.0/59.4]","x":88.0,"y":20.2},
        {"c":"Walker","m":"DROW3x with joint voting [74.6/82.1/71.0/59.4]","x":88.7,"y":17.8},
        {"c":"Walker","m":"DROW3x with joint voting [74.6/82.1/71.0/59.4]","x":90.4,"y":14.8},
        {"c":"Walker","m":"DROW3x with joint voting [74.6/82.1/71.0/59.4]","x":91.6,"y":13.1},
        {"c":"Walker","m":"DROW3x with joint voting [74.6/82.1/71.0/59.4]","x":92.8,"y":11.9},
        {"c":"Walker","m":"DROW3x with joint voting [74.6/82.1/71.0/59.4]","x":94.6,"y":9.5},
        {"c":"Walker","m":"DROW3x with joint voting [74.6/82.1/71.0/59.4]","x":95.8,"y":7.8},
        {"c":"Walker","m":"DROW3x with joint voting [74.6/82.1/71.0/59.4]","x":97.0,"y":6.6},
        {"c":"Walker","m":"DROW3x with joint voting [74.6/82.1/71.0/59.4]","x":98.7,"y":6.0},
        {"c":"Walker","m":"DROW3x with joint voting [74.6/82.1/71.0/59.4]","x":98.8,"y":5.4},

        {"c":"Person","m":"DROW3x with joint voting [74.6/82.1/71.0/59.4]","x":0,"y":100},
        {"c":"Person","m":"DROW3x with joint voting [74.6/82.1/71.0/59.4]","x":0.15,"y":85.0},
        {"c":"Person","m":"DROW3x with joint voting [74.6/82.1/71.0/59.4]","x":0.35,"y":92},
        {"c":"Person","m":"DROW3x with joint voting [74.6/82.1/71.0/59.4]","x":0.6,"y":82.2},
        {"c":"Person","m":"DROW3x with joint voting [74.6/82.1/71.0/59.4]","x":0.9,"y":84.8},
        {"c":"Person","m":"DROW3x with joint voting [74.6/82.1/71.0/59.4]","x":1.2,"y":81.3},
        {"c":"Person","m":"DROW3x with joint voting [74.6/82.1/71.0/59.4]","x":1.5,"y":84.5},
        {"c":"Person","m":"DROW3x with joint voting [74.6/82.1/71.0/59.4]","x":1.8,"y":81.6},
        {"c":"Person","m":"DROW3x with joint voting [74.6/82.1/71.0/59.4]","x":2.4,"y":84.5},
        {"c":"Person","m":"DROW3x with joint voting [74.6/82.1/71.0/59.4]","x":3.0,"y":81.9},
        {"c":"Person","m":"DROW3x with joint voting [74.6/82.1/71.0/59.4]","x":3.5,"y":82.7},
        {"c":"Person","m":"DROW3x with joint voting [74.6/82.1/71.0/59.4]","x":4.1,"y":81.6},
        {"c":"Person","m":"DROW3x with joint voting [74.6/82.1/71.0/59.4]","x":5.0,"y":83.1},
        {"c":"Person","m":"DROW3x with joint voting [74.6/82.1/71.0/59.4]","x":5.9,"y":82.2},
        {"c":"Person","m":"DROW3x with joint voting [74.6/82.1/71.0/59.4]","x":6.5,"y":79.8},
        {"c":"Person","m":"DROW3x with joint voting [74.6/82.1/71.0/59.4]","x":7.1,"y":81.0},
        {"c":"Person","m":"DROW3x with joint voting [74.6/82.1/71.0/59.4]","x":8.9,"y":81.9},
        {"c":"Person","m":"DROW3x with joint voting [74.6/82.1/71.0/59.4]","x":10.6,"y":82.7},
        {"c":"Person","m":"DROW3x with joint voting [74.6/82.1/71.0/59.4]","x":11.2,"y":83.7},
        {"c":"Person","m":"DROW3x with joint voting [74.6/82.1/71.0/59.4]","x":11.8,"y":82.7},
        {"c":"Person","m":"DROW3x with joint voting [74.6/82.1/71.0/59.4]","x":13.6,"y":83.4},
        {"c":"Person","m":"DROW3x with joint voting [74.6/82.1/71.0/59.4]","x":15.4,"y":83.7},
        {"c":"Person","m":"DROW3x with joint voting [74.6/82.1/71.0/59.4]","x":16.5,"y":82.7},
        {"c":"Person","m":"DROW3x with joint voting [74.6/82.1/71.0/59.4]","x":18.3,"y":83.4},
        {"c":"Person","m":"DROW3x with joint voting [74.6/82.1/71.0/59.4]","x":20.7,"y":84.1},
        {"c":"Person","m":"DROW3x with joint voting [74.6/82.1/71.0/59.4]","x":21.9,"y":83.4},
        {"c":"Person","m":"DROW3x with joint voting [74.6/82.1/71.0/59.4]","x":23.6,"y":82.7},
        {"c":"Person","m":"DROW3x with joint voting [74.6/82.1/71.0/59.4]","x":25.4,"y":81.6},
        {"c":"Person","m":"DROW3x with joint voting [74.6/82.1/71.0/59.4]","x":27.2,"y":80.4},
        {"c":"Person","m":"DROW3x with joint voting [74.6/82.1/71.0/59.4]","x":29,"y":78.6},
        {"c":"Person","m":"DROW3x with joint voting [74.6/82.1/71.0/59.4]","x":31.3,"y":77.5},
        {"c":"Person","m":"DROW3x with joint voting [74.6/82.1/71.0/59.4]","x":32.5,"y":76.3},
        {"c":"Person","m":"DROW3x with joint voting [74.6/82.1/71.0/59.4]","x":34.9,"y":75.7},
        {"c":"Person","m":"DROW3x with joint voting [74.6/82.1/71.0/59.4]","x":37.2,"y":74.5},
        {"c":"Person","m":"DROW3x with joint voting [74.6/82.1/71.0/59.4]","x":40.2,"y":72.7},
        {"c":"Person","m":"DROW3x with joint voting [74.6/82.1/71.0/59.4]","x":43.1,"y":72.1},
        {"c":"Person","m":"DROW3x with joint voting [74.6/82.1/71.0/59.4]","x":45.5,"y":71.6},
        {"c":"Person","m":"DROW3x with joint voting [74.6/82.1/71.0/59.4]","x":48.5,"y":70.4},
        {"c":"Person","m":"DROW3x with joint voting [74.6/82.1/71.0/59.4]","x":51.4,"y":68.6},
        {"c":"Person","m":"DROW3x with joint voting [74.6/82.1/71.0/59.4]","x":53.8,"y":67.7},
        {"c":"Person","m":"DROW3x with joint voting [74.6/82.1/71.0/59.4]","x":56.2,"y":66.2},
        {"c":"Person","m":"DROW3x with joint voting [74.6/82.1/71.0/59.4]","x":58.5,"y":63.9},
        {"c":"Person","m":"DROW3x with joint voting [74.6/82.1/71.0/59.4]","x":60.9,"y":62.1},
        {"c":"Person","m":"DROW3x with joint voting [74.6/82.1/71.0/59.4]","x":63.2,"y":59.7},
        {"c":"Person","m":"DROW3x with joint voting [74.6/82.1/71.0/59.4]","x":65.6,"y":56.8},
        {"c":"Person","m":"DROW3x with joint voting [74.6/82.1/71.0/59.4]","x":68.0,"y":54.4},
        {"c":"Person","m":"DROW3x with joint voting [74.6/82.1/71.0/59.4]","x":69.7,"y":52.0},
        {"c":"Person","m":"DROW3x with joint voting [74.6/82.1/71.0/59.4]","x":70.9,"y":49.9},
        {"c":"Person","m":"DROW3x with joint voting [74.6/82.1/71.0/59.4]","x":72.7,"y":47.9},
        {"c":"Person","m":"DROW3x with joint voting [74.6/82.1/71.0/59.4]","x":74.5,"y":44.4},
        {"c":"Person","m":"DROW3x with joint voting [74.6/82.1/71.0/59.4]","x":76.3,"y":42.0},
        {"c":"Person","m":"DROW3x with joint voting [74.6/82.1/71.0/59.4]","x":78.0,"y":39.1},
        {"c":"Person","m":"DROW3x with joint voting [74.6/82.1/71.0/59.4]","x":79.2,"y":36.7},
        {"c":"Person","m":"DROW3x with joint voting [74.6/82.1/71.0/59.4]","x":79.8,"y":33.8},
        {"c":"Person","m":"DROW3x with joint voting [74.6/82.1/71.0/59.4]","x":81.6,"y":30.2},
        {"c":"Person","m":"DROW3x with joint voting [74.6/82.1/71.0/59.4]","x":82.7,"y":29.0},
        {"c":"Person","m":"DROW3x with joint voting [74.6/82.1/71.0/59.4]","x":83.9,"y":26.1},
        {"c":"Person","m":"DROW3x with joint voting [74.6/82.1/71.0/59.4]","x":85.7,"y":23.7},
        {"c":"Person","m":"DROW3x with joint voting [74.6/82.1/71.0/59.4]","x":87.5,"y":20.8},
        {"c":"Person","m":"DROW3x with joint voting [74.6/82.1/71.0/59.4]","x":89.3,"y":17.8},
        {"c":"Person","m":"DROW3x with joint voting [74.6/82.1/71.0/59.4]","x":91.6,"y":14.3},
        {"c":"Person","m":"DROW3x with joint voting [74.6/82.1/71.0/59.4]","x":94.0,"y":11.3},
        {"c":"Person","m":"DROW3x with joint voting [74.6/82.1/71.0/59.4]","x":95.7,"y":8.9},
        {"c":"Person","m":"DROW3x with joint voting [74.6/82.1/71.0/59.4]","x":96.4,"y":7.2},
        {"c":"Person","m":"DROW3x with joint voting [74.6/82.1/71.0/59.4]","x":97.0,"y":6.0},
        {"c":"Person","m":"DROW3x with joint voting [74.6/82.1/71.0/59.4]","x":97.2,"y":4.2}
      ]},
      "mark": {"type": "line", "strokeWidth": 2.2, "clip": true, "strokeCap": "butt"},
      "encoding": {
        "x": {"field": "x", "type": "quantitative"},
        "y": {"field": "y", "type": "quantitative"},
        "order": {"value": null},
        "color": {
          "field": "c", "type": "nominal",
          "scale": {"domain": ["Agnostic", "Wheelchair", "Walker", "Person"], "range": ["#E24A33", "#348ABD", "#D670F0", "#8EBA42"]},
          "legend": {
            "orient": "none", "legendX": -20, "legendY": 636, "title": null, "padding": 0,
            "symbolType": "M-1,-0.326H1V0.326H-1Z", "symbolSize": 2116, "symbolStrokeWidth": 1,
            "clipHeight": 15, "rowPadding": 7.9, "labelOffset": 4, "symbolOpacity": 1,
            "labelFont": "'Liberation Serif', 'Times New Roman', serif", "labelFontSize": 18, "labelColor": "#000000", "labelLimit": 600,
            "encode": {"symbols": {"update": {"fill": {"scale": "color", "field": "value"}, "stroke": {"scale": "color", "field": "value"}, "strokeOpacity": {"value": 0.55}, "opacity": {"value": 1}}}}
          }
        },
        "strokeDash": {
          "field": "m", "type": "nominal",
          "scale": {"domain": ["DROW as in [16]", "DROW with joint voting [73.2/75.3/56.4/63.3]", "DROW3x with joint voting [74.6/82.1/71.0/59.4]"], "range": [[2.3, 4.7], [9, 5.5], [1, 0]]},
          "legend": {
            "orient": "none", "legendX": 131.5, "legendY": 636, "title": null, "padding": 0,
            "symbolType": "stroke", "symbolSize": 2209, "symbolStrokeWidth": 2.3, "symbolStrokeColor": "#000000",
            "clipHeight": 15, "rowPadding": 7.9, "labelOffset": 4,
            "labelFont": "'Liberation Serif', 'Times New Roman', serif", "labelFontSize": 18, "labelColor": "#000000", "labelLimit": 600
          }
        }
      }
    }
  ]
}
